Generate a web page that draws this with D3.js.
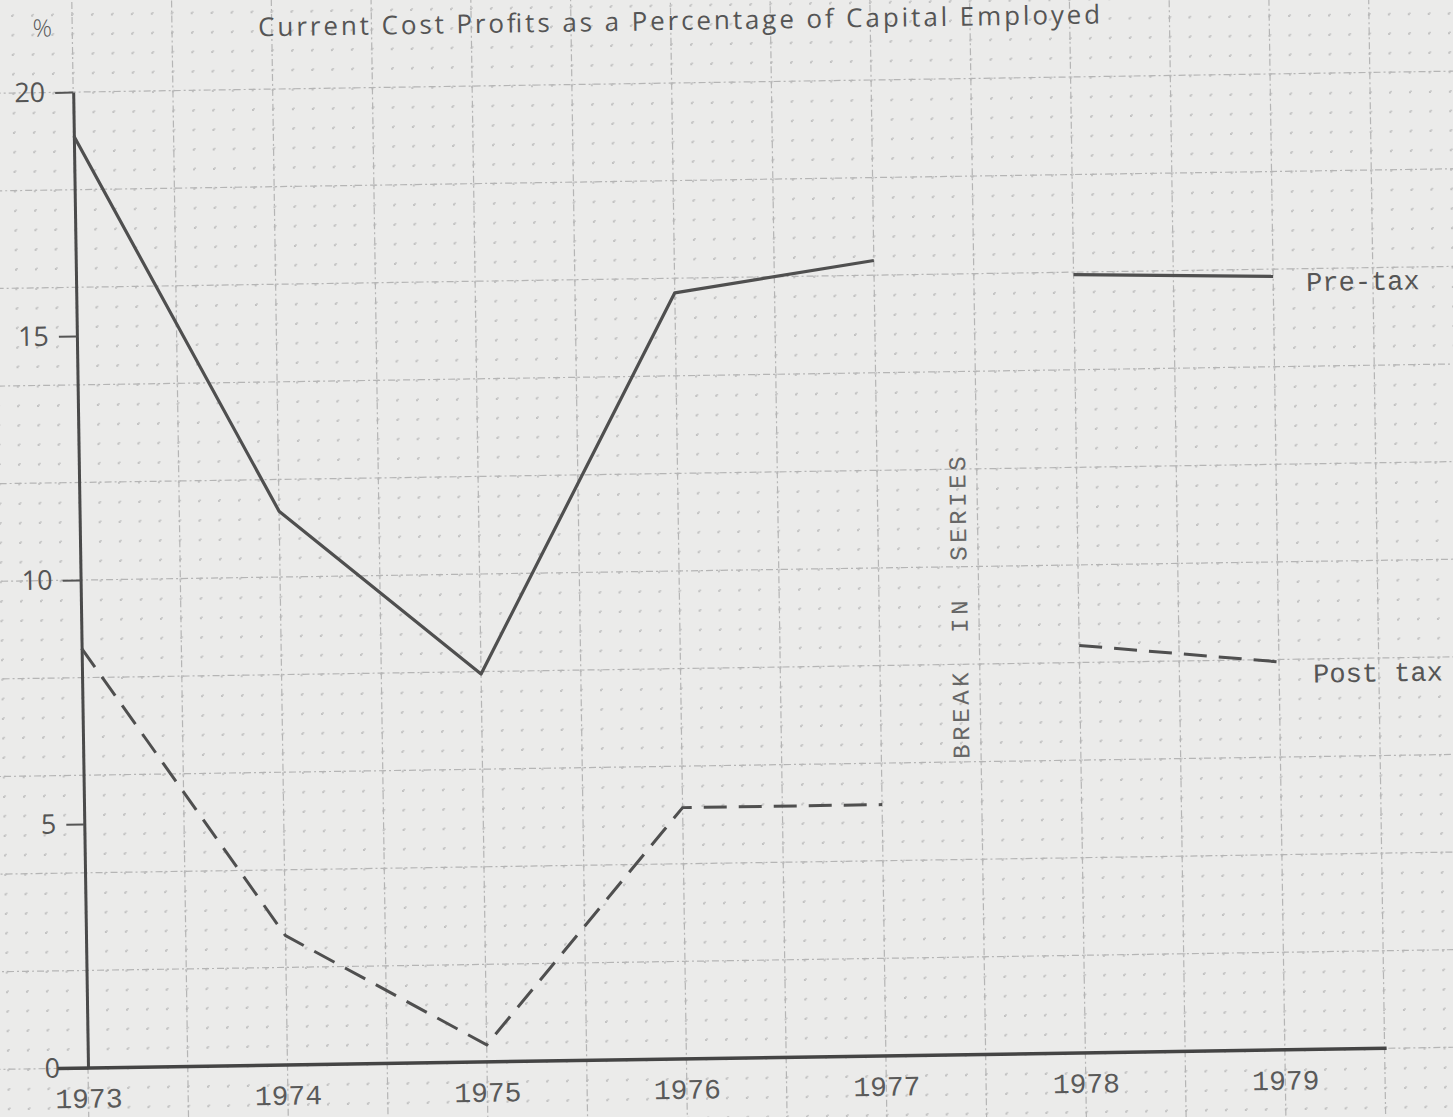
<!DOCTYPE html>
<html>
<head>
<meta charset="utf-8">
<script src="https://cdn.jsdelivr.net/npm/d3@7"></script>
<style>
  html, body { margin: 0; padding: 0; background: #ebebea; }
  svg { display: block; }
</style>
</head>
<body>
<div id="chart"></div>
<script>
// values
var years = [1973, 1974, 1975, 1976, 1977, 1978, 1979];
var preTax = [19.1, 11.35, 7.95, 15.7, 16.3, 15.95, 15.85];
var postTax = [8.6, 2.65, 0.35, 5.15, 5.15, 8.35, 7.95];
var breakAfter = 1977;
var yTicks = [0, 5, 10, 15, 20];

var W = 1453, H = 1117;
var plotW = 1197, plotH = 976;

var svg = d3.select("#chart").append("svg")
    .attr("width", W)
    .attr("height", H);

svg.append("rect").attr("width", W).attr("height", H).attr("fill", "#ebebea");

// the scan is tilted a little, so the whole sheet is drawn rotated
var g = svg.append("g")
    .attr("transform", "translate(88,1068) rotate(-0.87) translate(0," + (-plotH) + ")");

var x = d3.scaleLinear().domain([1973, 1979]).range([0, plotW]);
var y = d3.scaleLinear().domain([0, 20]).range([plotH, 0]);

// graph paper
var gxMinor = d3.range(1972, 1980.61, 0.1);
var gyMinor = d3.range(-4, 24.01, 0.4);
var gxMajor = d3.range(1972, 1980.51, 0.5);
var gyMajor = d3.range(-4, 24.01, 2);
var stepX = x(1973.1) - x(1973);
var stepY = y(0) - y(0.4);

var paper = g.append("g");
paper.selectAll(".vmin").data(gxMinor).enter().append("line")
    .attr("x1", d => x(d)).attr("x2", d => x(d))
    .attr("y1", y(24)).attr("y2", y(-4))
    .attr("stroke", "#c2c2c2").attr("stroke-width", 2)
    .attr("stroke-dasharray", "2," + (stepY - 2));
paper.selectAll(".hmin").data(gyMinor).enter().append("line")
    .attr("x1", x(1972)).attr("x2", x(1980.5))
    .attr("y1", d => y(d)).attr("y2", d => y(d))
    .attr("stroke", "#cacaca").attr("stroke-width", 1.5)
    .attr("stroke-dasharray", "2," + (stepX - 2));
paper.selectAll(".vmaj").data(gxMajor).enter().append("line")
    .attr("x1", d => x(d)).attr("x2", d => x(d))
    .attr("y1", y(24)).attr("y2", y(-4))
    .attr("stroke", "#b5b5b5").attr("stroke-width", 1.2)
    .attr("stroke-dasharray", "7,3,2,3");
paper.selectAll(".hmaj").data(gyMajor).enter().append("line")
    .attr("x1", x(1972)).attr("x2", x(1980.5))
    .attr("y1", d => y(d)).attr("y2", d => y(d))
    .attr("stroke", "#b5b5b5").attr("stroke-width", 1.2)
    .attr("stroke-dasharray", "7,3,2,3");

// axes
var yAxis = g.append("g")
    .call(d3.axisLeft(y).tickValues(yTicks).tickSize(18).tickSizeOuter(0).tickPadding(10)
        .tickFormat(d3.format("d")));
yAxis.select(".domain").attr("stroke", "#4a4a4a").attr("stroke-width", 3);
yAxis.selectAll(".tick line").attr("stroke", "#555").attr("stroke-width", 2);
yAxis.selectAll(".tick text")
    .attr("fill", "#555")
    .style("font-family", "'Open Sans', sans-serif")
    .style("font-weight", 400)
    .style("font-size", "27px");

var xAxis = g.append("g")
    .attr("transform", "translate(0," + plotH + ")")
    .call(d3.axisBottom(x).tickValues(years).tickSize(0).tickPadding(20)
        .tickFormat(d3.format("d")));
xAxis.select(".domain").remove();
xAxis.selectAll(".tick text")
    .attr("fill", "#5a5a5a")
    .style("font-family", "'Liberation Mono', monospace")
    .style("font-size", "28px");

g.append("line")
    .attr("x1", x(1972.85)).attr("x2", x(1979.51))
    .attr("y1", y(0)).attr("y2", y(0))
    .attr("stroke", "#444").attr("stroke-width", 3.5);

// series, split at the break
function split(vals) {
  var a = [], b = [];
  years.forEach(function (yr, i) {
    (yr <= breakAfter ? a : b).push({ year: yr, v: vals[i] });
  });
  return [a, b];
}

var line = d3.line().x(d => x(d.year)).y(d => y(d.v));

g.selectAll(".pre").data(split(preTax)).enter().append("path")
    .attr("d", line)
    .attr("fill", "none")
    .attr("stroke", "#4f4f4f")
    .attr("stroke-width", 3.2)
    .attr("stroke-linejoin", "round");

g.selectAll(".post").data(split(postTax)).enter().append("path")
    .attr("d", line)
    .attr("fill", "none")
    .attr("stroke", "#4f4f4f")
    .attr("stroke-width", 3)
    .attr("stroke-dasharray", "23,12");

// labels
var last = years.length - 1;
g.append("text")
    .attr("x", x(years[last]) + 33)
    .attr("y", y(preTax[last]) + 15)
    .attr("fill", "#555")
    .style("font-family", "'Liberation Mono', monospace")
    .style("font-size", "27px")
    .text("Pre-tax");

g.append("text")
    .attr("x", x(years[last]) + 34)
    .attr("y", y(postTax[last]) + 21)
    .attr("fill", "#555")
    .style("font-family", "'Liberation Mono', monospace")
    .style("font-size", "27px")
    .text("Post tax");

g.append("text")
    .attr("transform", "translate(" + x(1977.4) + "," + y(9.2) + ") rotate(-90)")
    .attr("text-anchor", "middle")
    .attr("dy", "0.35em")
    .attr("fill", "#666")
    .style("font-family", "'Liberation Mono', monospace")
    .style("font-size", "24px")
    .style("letter-spacing", "3.6px")
    .style("white-space", "pre")
    .text("BREAK  IN  SERIES");

g.append("text")
    .attr("x", -30)
    .attr("y", -56)
    .attr("text-anchor", "middle")
    .attr("fill", "#5a5a5a")
    .style("font-family", "'Open Sans', sans-serif")
    .style("font-weight", 300)
    .style("font-size", "24px")
    .text("%");

g.append("text")
    .attr("x", 186)
    .attr("y", -53)
    .attr("fill", "#555")
    .attr("textLength", 842)
    .attr("lengthAdjust", "spacing")
    .style("font-family", "'Open Sans', sans-serif")
    .style("font-size", "26px")
    .text("Current Cost Profits as a Percentage of Capital Employed");
</script>
</body>
</html>
